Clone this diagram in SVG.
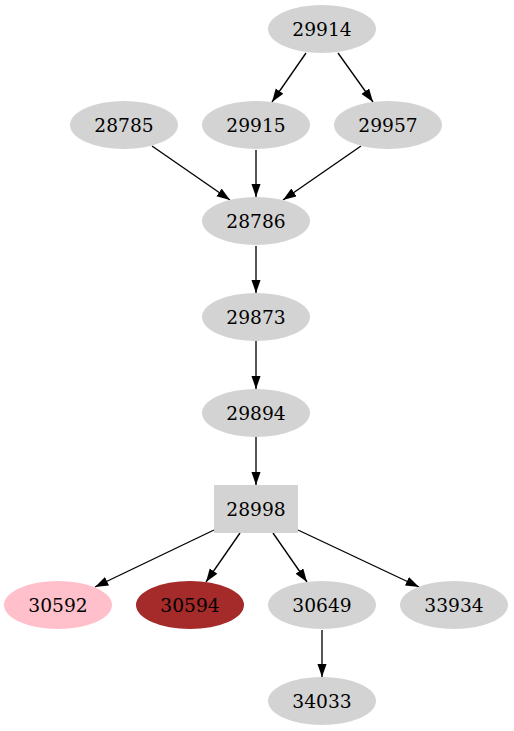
<svg xmlns="http://www.w3.org/2000/svg" width="514" height="731" viewBox="0 0 514 731">
<style>
.n{fill:#d3d3d3;stroke:none}
text{font-family:"DejaVu Serif",serif;font-size:18.67px;text-anchor:middle;fill:#000}
.e{stroke:#000;stroke-width:1.33;fill:none;marker-end:url(#a)}
</style>
<defs>
<marker id="a" markerUnits="userSpaceOnUse" markerWidth="14" markerHeight="10" refX="13.3" refY="4.67" orient="auto">
<path d="M0,0 L13.3,4.67 L0,9.33 z" fill="#000"/>
</marker>
</defs>
<rect width="514" height="731" fill="#fff"/>
<g id="edges">
<line class="e" x1="306" y1="53" x2="272" y2="102"/>
<line class="e" x1="338" y1="53" x2="373" y2="102"/>
<line class="e" x1="152" y1="146" x2="230" y2="200"/>
<line class="e" x1="256" y1="150" x2="256" y2="197"/>
<line class="e" x1="361" y1="146" x2="283" y2="200"/>
<line class="e" x1="256" y1="246" x2="256" y2="293"/>
<line class="e" x1="256" y1="341" x2="256" y2="389"/>
<line class="e" x1="256" y1="437" x2="256" y2="485"/>
<line class="e" x1="214" y1="530" x2="95" y2="587"/>
<line class="e" x1="240" y1="533" x2="206" y2="582"/>
<line class="e" x1="273" y1="533" x2="307" y2="582"/>
<line class="e" x1="298" y1="530" x2="419" y2="587"/>
<line class="e" x1="322" y1="630" x2="322" y2="677"/>
</g>
<g id="n29914"><ellipse class="n" cx="322" cy="29" rx="54" ry="24"/><text x="322" y="35.5">29914</text></g>
<g id="n28785"><ellipse class="n" cx="124" cy="125" rx="54" ry="24"/><text x="124" y="131.5">28785</text></g>
<g id="n29915"><ellipse class="n" cx="256" cy="125" rx="54" ry="24"/><text x="256" y="131.5">29915</text></g>
<g id="n29957"><ellipse class="n" cx="388" cy="125" rx="54" ry="24"/><text x="388" y="131.5">29957</text></g>
<g id="n28786"><ellipse class="n" cx="256" cy="221" rx="54" ry="24"/><text x="256" y="227.5">28786</text></g>
<g id="n29873"><ellipse class="n" cx="256" cy="317" rx="54" ry="24"/><text x="256" y="323.5">29873</text></g>
<g id="n29894"><ellipse class="n" cx="256" cy="413" rx="54" ry="24"/><text x="256" y="419.5">29894</text></g>
<g id="n28998"><rect class="n" x="214" y="485" width="84" height="48"/><text x="256" y="515.5">28998</text></g>
<g id="n30592"><ellipse cx="58" cy="605" rx="54" ry="24" fill="#ffc0cb"/><text x="58" y="611.5">30592</text></g>
<g id="n30594"><ellipse cx="190" cy="605" rx="54" ry="24" fill="#a52a2a"/><text x="190" y="611.5">30594</text></g>
<g id="n30649"><ellipse class="n" cx="322" cy="605" rx="54" ry="24"/><text x="322" y="611.5">30649</text></g>
<g id="n33934"><ellipse class="n" cx="454" cy="605" rx="54" ry="24"/><text x="454" y="611.5">33934</text></g>
<g id="n34033"><ellipse class="n" cx="322" cy="701" rx="54" ry="24"/><text x="322" y="707.5">34033</text></g>
</svg>
